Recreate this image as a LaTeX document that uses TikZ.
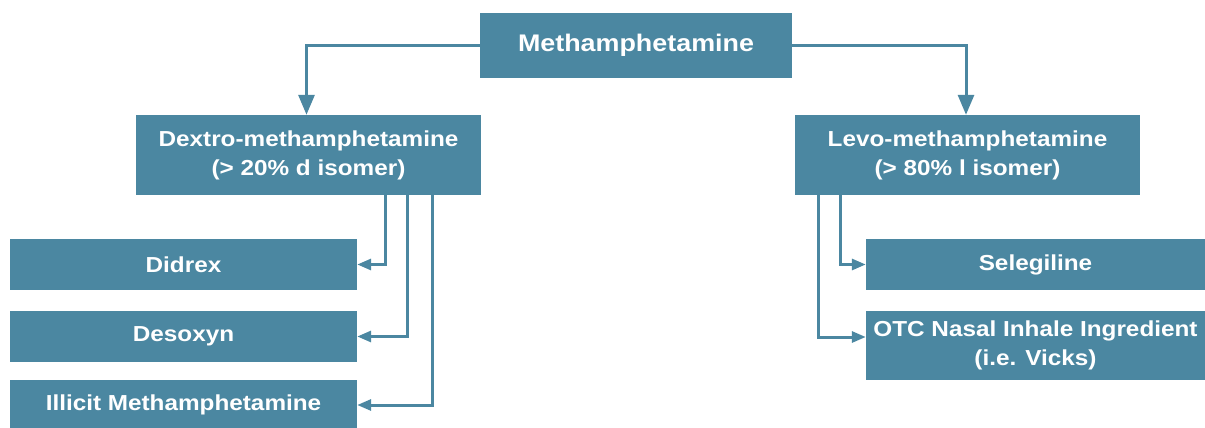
\documentclass[tikz,border=0pt]{standalone}
\usepackage{fontspec}
\setmainfont{Liberation Sans}[FakeStretch=1.12]
\usetikzlibrary{arrows.meta}
\definecolor{boxblue}{HTML}{4B87A1}
\begin{document}
\begin{tikzpicture}[x=1pt,y=-1pt,
  box/.style={fill=boxblue,draw=none,text=white,font=\bfseries\fontsize{21.7}{29}\selectfont,align=center,inner sep=0pt},
  conn/.style={draw=boxblue,line width=3pt,-{Triangle[length=14pt,width=11pt]}},
  bigconn/.style={draw=boxblue,line width=3pt,-{Triangle[length=20pt,width=16pt]}}]
\useasboundingbox (0,0) rectangle (1205,428);
\node[box,minimum width=312pt,minimum height=65pt,font=\bfseries\fontsize{24}{29}\selectfont] (meth) at (636,45.5) {Methamphetamine};
\node[box,minimum width=345pt,minimum height=80pt] (dextro) at (308.5,155) {Dextro-methamphetamine\\(> 20\% d isomer)};
\node[box,minimum width=345pt,minimum height=80pt] (levo) at (967.5,155) {Levo-methamphetamine\\(> 80\% l isomer)};
\node[box,minimum width=347pt,minimum height=51pt] (didrex) at (183.5,264.5) {Didrex};
\node[box,minimum width=347pt,minimum height=51pt] (desoxyn) at (183.5,336.5) {Desoxyn};
\node[box,minimum width=347pt,minimum height=50pt] (illicit) at (183.5,405) {Illicit Methamphetamine};
\node[box,minimum width=339pt,minimum height=51pt] (seleg) at (1035.5,264.5) {Selegiline};
\node[box,minimum width=339pt,minimum height=69pt] (otc) at (1035.5,345.5) {OTC Nasal Inhale Ingredient\\(i.e. Vicks)};
\draw[bigconn] (meth.west) -| ([xshift=-2pt]dextro.north);
\draw[bigconn] (meth.east) -| ([xshift=-1.5pt]levo.north);
\draw[conn] ([xshift=-96pt]dextro.south east) |- (didrex.east);
\draw[conn] ([xshift=-74pt]dextro.south east) |- (desoxyn.east);
\draw[conn] ([xshift=-49pt]dextro.south east) |- (illicit.east);
\draw[conn] ([xshift=46pt]levo.south west) |- (seleg.west);
\draw[conn] ([xshift=24pt]levo.south west) |- ([yshift=8.5pt]otc.west);
\end{tikzpicture}
\end{document}
